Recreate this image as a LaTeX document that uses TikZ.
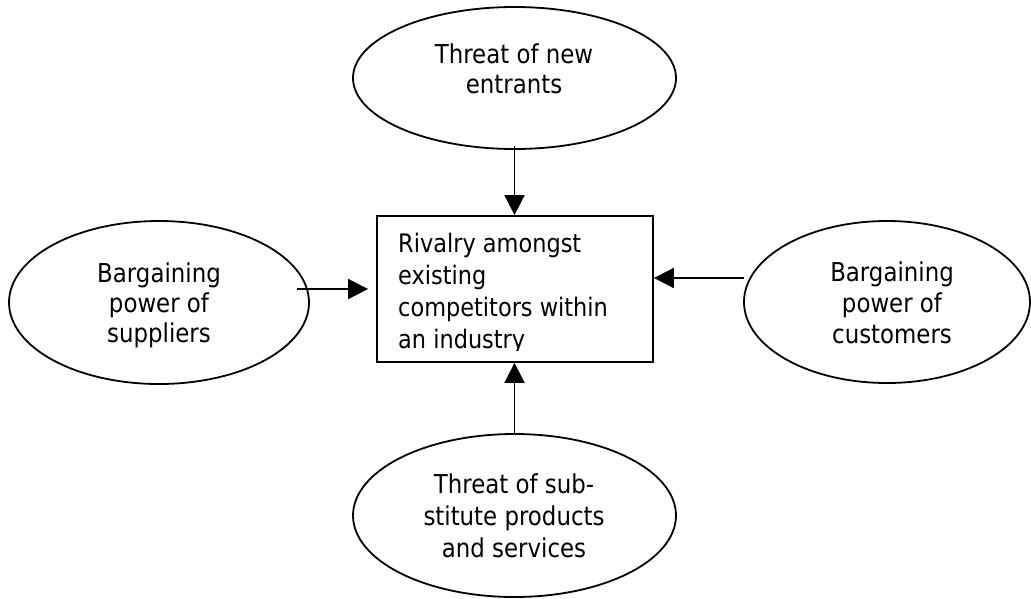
\documentclass[tikz,border=0pt]{standalone}
\usepackage{fontspec}
\setmainfont{DejaVu Sans}[FakeStretch=0.88]
\usetikzlibrary{shapes.geometric,arrows.meta}
\begin{document}
\begin{tikzpicture}[x=1pt,y=-1pt,
  ell/.style={draw,ellipse,line width=1.8pt,inner sep=0pt},
  box/.style={draw,rectangle,line width=1.8pt,inner sep=0pt},
  lbl/.style={align=center,anchor=base,inner sep=0pt},
  arr/.style={line width=1.8pt,-{Triangle[length=20pt,width=20pt]}}]
\useasboundingbox (0,0) rectangle (1031,598);
% shapes
\node[ell,minimum width=323pt,minimum height=142pt] (ent) at (514.5,78) {};
\node[ell,minimum width=323pt,minimum height=163pt] (sub) at (514.5,515.5) {};
\node[ell,minimum width=300pt,minimum height=163pt] (sup) at (159,302.5) {};
\node[ell,minimum width=286pt,minimum height=162pt] (cus) at (887,302) {};
\node[box,minimum width=276pt,minimum height=146pt] (riv) at (515,289) {};
% texts (anchor base = baseline of the last line)
\node[lbl,font=\fontsize{26}{30}\selectfont] (entt) at (514,93) {Threat of new\\entrants};
\node[lbl,font=\fontsize{26}{30}\selectfont] (supt) at (159,342) {Bargaining\\power of\\suppliers};
\node[lbl,font=\fontsize{26}{31}\selectfont] (cust) at (892,343) {Bargaining\\power of\\customers};
\node[lbl,font=\fontsize{26}{32}\selectfont] (subt) at (514,557) {Threat of sub-\\stitute products\\and services};
\begin{scope}
\clip (377,216) rectangle (653,350);
\node[lbl,align=left,anchor=base west,font=\fontsize{25.5}{31.7}\selectfont] (rivt) at (398,348) {Rivalry amongst\\existing\\competitors within\\an industry};
\end{scope}
% connectors
\coordinate (sa) at (297,289);
\coordinate (ca) at (744,278);
\draw[arr] ([yshift=4pt]ent.south) -- (ent.south |- riv.north);
\draw[arr] (sub.north) -- (sub.north |- riv.south);
\draw[arr] (sa) -- ([xshift=-8pt]riv.west |- sa);
\draw[arr] (ca) -- (riv.east |- ca);
\end{tikzpicture}
\end{document}
